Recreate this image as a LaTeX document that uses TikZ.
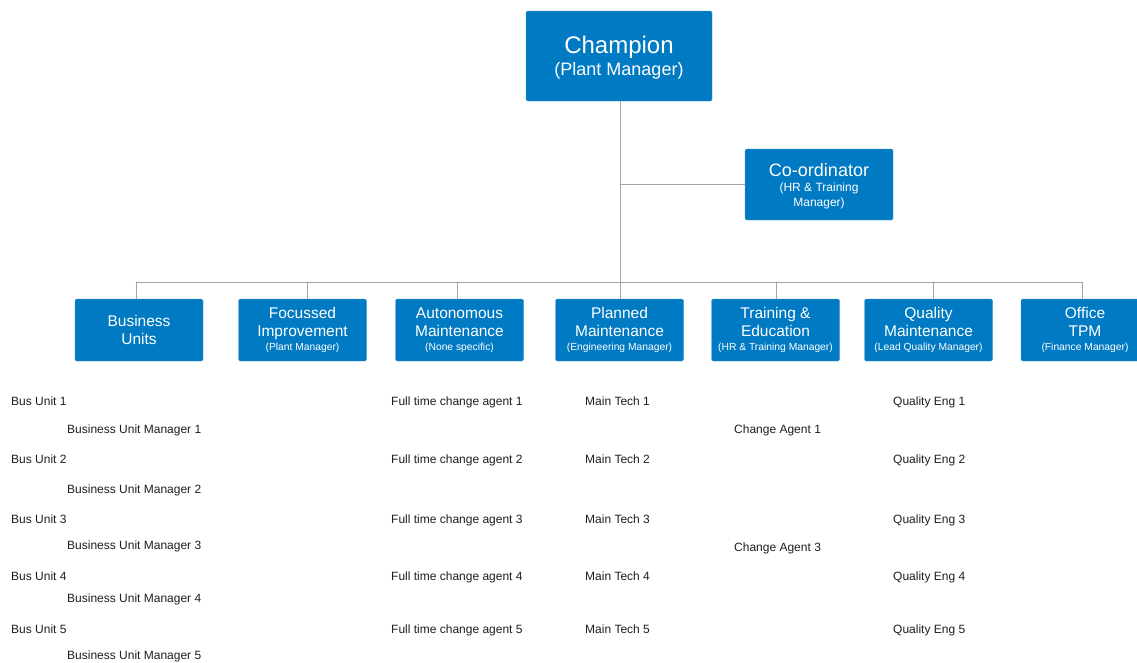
\documentclass[tikz,border=0pt]{standalone}
\usepackage{fontspec}
\setmainfont{Liberation Sans}
\usepackage{tikz}
\usetikzlibrary{positioning}
\definecolor{tpmblue}{RGB}{0,122,194}
\definecolor{tpmedge}{RGB}{70,150,205}
\definecolor{linegray}{RGB}{165,165,165}
\definecolor{textgray}{RGB}{30,30,30}

\begin{document}
\begin{tikzpicture}[x=1pt, y=-1pt, line cap=round, line join=round,
	box/.style={draw=tpmedge, fill=tpmblue, rounded corners=1.5pt, text=white, align=center,
		minimum width=128pt, minimum height=62pt, inner sep=0pt, font=\fontsize{15.5}{18}\selectfont},
	conn/.style={draw=linegray, line width=0.9pt},
	item/.style={anchor=base west, inner sep=0pt, text=textgray, font=\fontsize{12}{14}\selectfont}]
	\newcommand{\subline}[1]{{\fontsize{10.3}{12}\selectfont #1}}
	\useasboundingbox (0,0) rectangle (1137,662);

	% top of the chart
	\node[box, minimum width=186pt, minimum height=90pt, text depth=-2pt, font=\fontsize{24}{24}\selectfont] (champ) at (619,56)
		{Champion\\[-2pt]{\fontsize{18}{20}\selectfont (Plant Manager)}};
	\node[box, minimum width=148pt, minimum height=71pt, text depth=-1pt, font=\fontsize{18}{18}\selectfont] (coord) at (819,184.5)
		{Co-ordinator\\[-3pt]{\fontsize{12}{14}\selectfont (HR \& Training}\\[-3pt]{\fontsize{12}{14}\selectfont Manager)}};

	% pillars
	\node[box] (bu) at (139,330) {Business\\Units};
	\node[box] (fi) at (302.5,330) {Focussed\\Improvement\\[-4pt]\subline{(Plant Manager)}};
	\node[box] (am) at (459.5,330) {Autonomous\\Maintenance\\[-4pt]\subline{(None specific)}};
	\node[box] (pm) at (619.5,330) {Planned\\Maintenance\\[-4pt]\subline{(Engineering Manager)}};
	\node[box] (te) at (775.5,330) {Training \&\\Education\\[-4pt]\subline{(HR \& Training Manager)}};
	\node[box] (qm) at (928.5,330) {Quality\\Maintenance\\[-4pt]\subline{(Lead Quality Manager)}};
	\node[box] (otpm) at (1085,330) {Office\\TPM\\[-4pt]\subline{(Finance Manager)}};

	% connectors
	\coordinate (bus) at (620,282);
	\draw[conn] (champ.south -| bus) -- (bus);
	\draw[conn] (coord.west) -- (bus |- coord.west);
	\draw[conn] ([xshift=-3pt]bu.north |- bus) -- ([xshift=-3pt]otpm.north |- bus);
	\foreach \b/\dx in {bu/-3,fi/4.5,am/-2.5,pm/0.5,te/0.5,qm/4.5,otpm/-3}
		\draw[conn] ([xshift=\dx pt]\b.north) -- ([xshift=\dx pt]\b.north |- bus);

	% people under the pillars
	\foreach \i/\y in {1/401,2/459,3/519,4/576,5/629} {
		\node[item] (busu\i) at (11,\y+4.3) {Bus Unit \i};
		\node[item] (fta\i) at (391,\y+4.3) {Full time change agent \i};
		\node[item] (mt\i) at (585,\y+4.3) {Main Tech \i};
		\node[item] (qe\i) at (893,\y+4.3) {Quality Eng \i};
	}
	\foreach \i/\y in {1/429,2/489,3/545,4/598,5/655}
		\node[item] (bum\i) at (67,\y+4.3) {Business Unit Manager \i};
	\node[item] (ca1) at (734,429+4.3) {Change Agent 1};
	\node[item] (ca3) at (734,547+4.3) {Change Agent 3};

\end{tikzpicture}
\end{document}
